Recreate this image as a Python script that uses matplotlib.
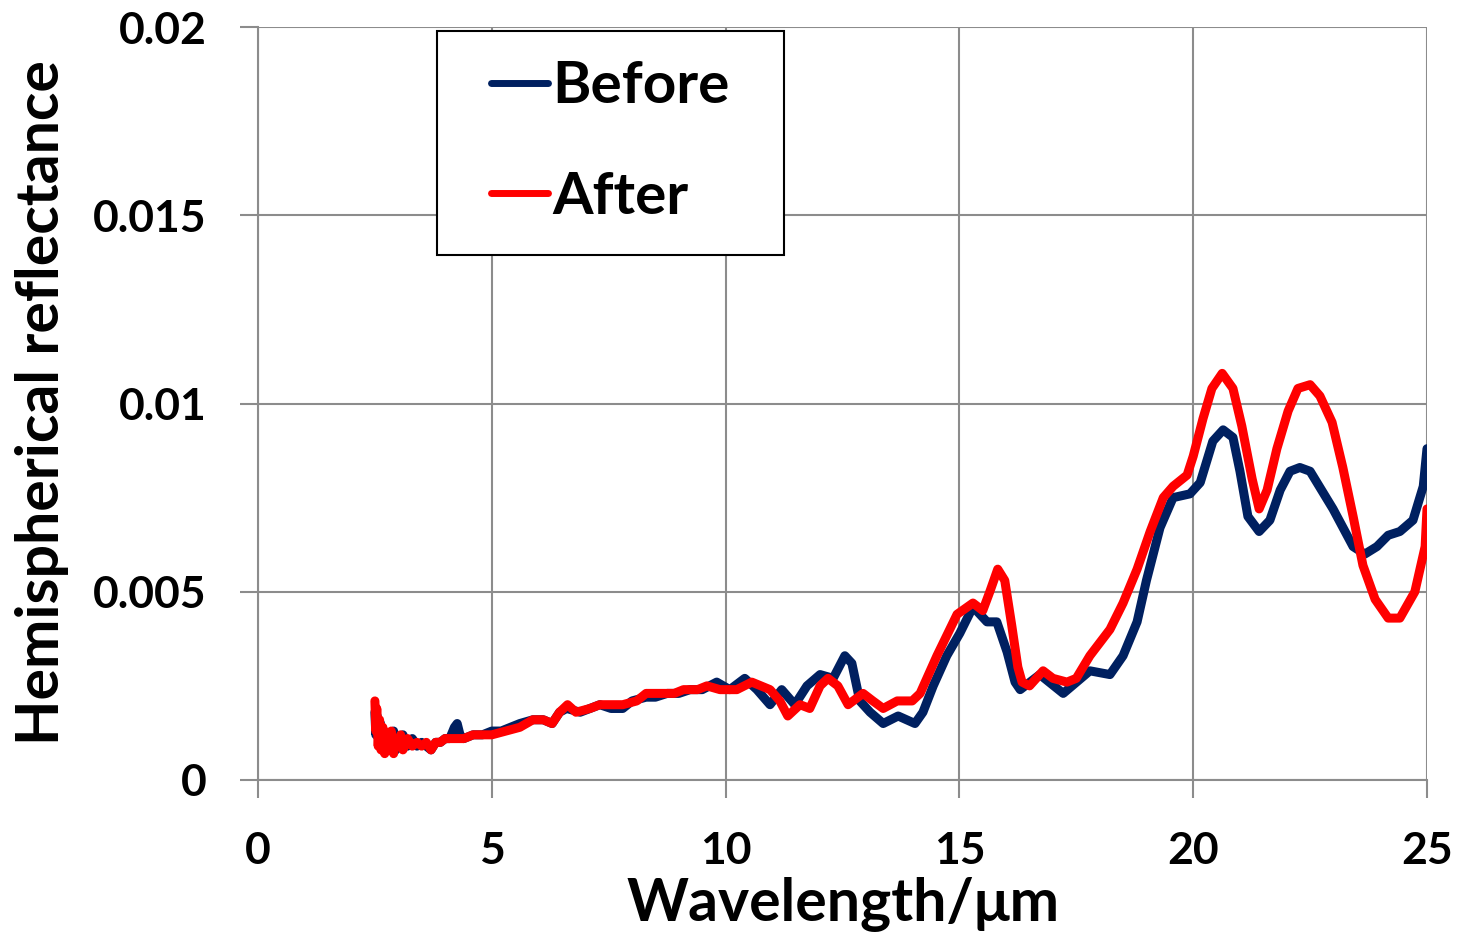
import matplotlib
matplotlib.use("Agg")
import matplotlib.pyplot as plt
from matplotlib.patches import Rectangle

# Before (blue)
x_before = [2.50, 2.52, 2.55, 2.58, 2.62, 2.66, 2.70, 2.75, 2.80, 2.85, 2.90, 2.95,
            3.00, 3.05, 3.10, 3.20, 3.30, 3.40, 3.50, 3.60, 3.70, 3.80, 3.90, 4.00,
            4.10, 4.20, 4.26, 4.32, 4.40, 4.60, 4.80, 5.00, 5.20, 5.40, 5.60, 5.88,
            6.10, 6.29, 6.45, 6.60, 6.89, 7.10, 7.31, 7.55, 7.80, 8.00, 8.30, 8.50,
            8.75, 9.00, 9.24, 9.50, 9.81, 10.09, 10.41, 10.67, 10.95, 11.20, 11.48,
            11.74, 12.02, 12.30, 12.55, 12.70, 12.87, 13.09, 13.37, 13.69, 14.05,
            14.22, 14.44, 14.73, 15.01, 15.29, 15.59, 15.80, 16.02, 16.19, 16.30,
            16.72, 17.22, 17.79, 18.22, 18.50, 18.80, 19.00, 19.29, 19.57, 19.93,
            20.15, 20.42, 20.64, 20.85, 21.00, 21.17, 21.41, 21.64, 21.86, 22.07,
            22.28, 22.50, 22.99, 23.42, 23.67, 23.93, 24.17, 24.42, 24.70, 24.92, 25.00]
y_before = [0.0018, 0.0012, 0.0017, 0.0010, 0.0015, 0.0009, 0.0013, 0.0008, 0.0012, 0.0009, 0.0013, 0.0008,
            0.0011, 0.0010, 0.0012, 0.0009, 0.0011, 0.0009, 0.0010, 0.0009, 0.0008, 0.0010, 0.0010, 0.0011,
            0.0011, 0.0014, 0.0015, 0.0012, 0.0011, 0.0012, 0.0012, 0.0013, 0.0013, 0.0014, 0.0015, 0.0016,
            0.0016, 0.0015, 0.0018, 0.0019, 0.0018, 0.0019, 0.0020, 0.0019, 0.0019, 0.0021, 0.0022, 0.0022,
            0.0023, 0.0023, 0.0024, 0.0024, 0.0026, 0.0024, 0.0027, 0.0024, 0.0020, 0.0024, 0.0020,
            0.0025, 0.0028, 0.0027, 0.0033, 0.0031, 0.0021, 0.0018, 0.0015, 0.0017, 0.0015,
            0.0018, 0.0025, 0.0033, 0.0039, 0.0046, 0.0042, 0.0042, 0.0034, 0.0026, 0.0024,
            0.0028, 0.0023, 0.0029, 0.0028, 0.0033, 0.0042, 0.0053, 0.0067, 0.0075, 0.0076,
            0.0079, 0.0090, 0.0093, 0.0091, 0.0082, 0.0070, 0.0066, 0.0069, 0.0077, 0.0082,
            0.0083, 0.0082, 0.0072, 0.0062, 0.0060, 0.0062, 0.0065, 0.0066, 0.0069, 0.0078, 0.0088]

# After (red)
x_after = [2.50, 2.52, 2.54, 2.57, 2.60, 2.63, 2.67, 2.71, 2.75, 2.80, 2.85, 2.90,
           2.95, 3.00, 3.05, 3.10, 3.20, 3.30, 3.40, 3.50, 3.60, 3.70, 3.80, 3.90,
           4.00, 4.20, 4.40, 4.60, 4.80, 5.00, 5.30, 5.60, 5.88, 6.10, 6.29, 6.45,
           6.62, 6.80, 7.10, 7.31, 7.55, 7.80, 8.10, 8.30, 8.60, 8.90, 9.10, 9.40,
           9.60, 9.88, 10.24, 10.56, 10.95, 11.16, 11.33, 11.59, 11.80, 12.02, 12.19,
           12.40, 12.62, 12.94, 13.15, 13.37, 13.67, 13.99, 14.16, 14.52, 14.95, 15.29,
           15.50, 15.65, 15.82, 15.97, 16.12, 16.25, 16.34, 16.50, 16.79, 17.00, 17.30,
           17.50, 17.79, 18.22, 18.50, 18.80, 19.08, 19.36, 19.57, 19.87, 20.00, 20.21,
           20.40, 20.62, 20.85, 21.04, 21.26, 21.41, 21.58, 21.79, 22.03, 22.24, 22.50,
           22.71, 22.97, 23.20, 23.42, 23.63, 23.89, 24.17, 24.42, 24.74, 24.96, 25.00]
y_after = [0.0021, 0.0013, 0.0019, 0.0009, 0.0016, 0.0008, 0.0014, 0.0007, 0.0012, 0.0008, 0.0013, 0.0007,
           0.0011, 0.0009, 0.0012, 0.0008, 0.0011, 0.0009, 0.0010, 0.0009, 0.0010, 0.0008, 0.0010, 0.0010,
           0.0011, 0.0011, 0.0011, 0.0012, 0.0012, 0.0012, 0.0013, 0.0014, 0.0016, 0.0016, 0.0015, 0.0018,
           0.0020, 0.0018, 0.0019, 0.0020, 0.0020, 0.0020, 0.0021, 0.0023, 0.0023, 0.0023, 0.0024, 0.0024,
           0.0025, 0.0024, 0.0024, 0.0026, 0.0024, 0.0021, 0.0017, 0.0020, 0.0019, 0.0025, 0.0027,
           0.0025, 0.0020, 0.0023, 0.0021, 0.0019, 0.0021, 0.0021, 0.0023, 0.0033, 0.0044, 0.0047,
           0.0045, 0.0050, 0.0056, 0.0053, 0.0041, 0.0030, 0.0026, 0.0025, 0.0029, 0.0027, 0.0026,
           0.0027, 0.0033, 0.0040, 0.0047, 0.0056, 0.0066, 0.0075, 0.0078, 0.0081, 0.0086, 0.0096,
           0.0104, 0.0108, 0.0104, 0.0094, 0.0080, 0.0072, 0.0077, 0.0088, 0.0098, 0.0104, 0.0105,
           0.0102, 0.0095, 0.0083, 0.0070, 0.0057, 0.0048, 0.0043, 0.0043, 0.0050, 0.0062, 0.0072]

x_ticks = [0, 5, 10, 15, 20, 25]
y_ticks = [0, 0.005, 0.01, 0.015, 0.02]
y_tick_labels = ["0", "0.005", "0.01", "0.015", "0.02"]

plt.rcParams['font.family'] = ['Lato', 'DejaVu Sans']
plt.rcParams['font.weight'] = 'bold'

fig = plt.figure(figsize=(14.57, 9.36), dpi=100)
ax = fig.add_axes([258 / 1457, 156 / 936, 1169 / 1457, 753 / 936])

grid_color = '#8c8c8c'
ax.plot(x_before, y_before, color='#002060', lw=6.5, label='Before',
        solid_joinstyle='round', solid_capstyle='round', zorder=3)
ax.plot(x_after, y_after, color='#ff0000', lw=6.5, label='After',
        solid_joinstyle='round', solid_capstyle='round', zorder=4)

ax.set_xlim(0, 25)
ax.set_ylim(0, 0.02)
ax.set_xticks(x_ticks)
ax.set_yticks(y_ticks)
ax.set_yticklabels(y_tick_labels)
ax.grid(True, color=grid_color, lw=1.5)
ax.set_axisbelow(True)
for s in ['top', 'right']:
    ax.spines[s].set_visible(False)
for s in ['left', 'bottom']:
    ax.spines[s].set_color(grid_color)
    ax.spines[s].set_linewidth(1.5)
ax.tick_params(axis='both', direction='out', length=13, width=1.5, color=grid_color,
               labelsize=32)
ax.tick_params(axis='y', pad=24)
ax.tick_params(axis='x', pad=24)

fig.text(843 / 1457, 1 - 905 / 936, 'Wavelength/μm', ha='center', va='center',
         fontsize=42.5, fontweight='bold')
fig.text(42 / 1457, 1 - 403 / 936, 'Hemispherical reflectance', ha='center', va='center',
         rotation=90, fontsize=42.5, fontweight='bold')

# legend box drawn by hand, legend text centered in it
box = Rectangle((179 / 1169, 525 / 753), 347 / 1169, 224 / 753, transform=ax.transAxes,
                facecolor='white', edgecolor='black', lw=1.5, zorder=5)
ax.add_patch(box)
leg = ax.legend(loc='center', bbox_to_anchor=(352.5 / 1169, 638 / 753), fontsize=42,
                handlelength=0.97, handletextpad=0.08, labelspacing=0.98, borderpad=0,
                frameon=False)
leg.set_zorder(6)
for line in leg.get_lines():
    line.set_linewidth(5)

fig.savefig('out.png', dpi=100)
